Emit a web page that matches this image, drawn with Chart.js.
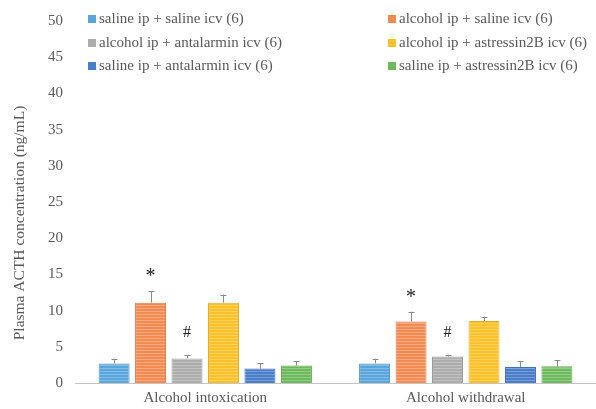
<!DOCTYPE html>
<html>
<head>
<meta charset="utf-8">
<script src="https://cdn.jsdelivr.net/npm/chart.js@4/dist/chart.umd.min.js"></script>
<style>
  html, body { margin: 0; padding: 0; background: #ffffff; }
  #wrap { width: 596px; height: 409px; position: relative; }
</style>
</head>
<body>
<div id="wrap"><canvas id="c" width="596" height="409"></canvas></div>
<script>
// Conditions on the x axis
const categories = ['Alcohol intoxication', 'Alcohol withdrawal'];

// Group names (n per group)
const seriesNames = [
  'saline ip + saline icv (6)',
  'alcohol ip + saline icv (6)',
  'alcohol ip + antalarmin icv (6)',
  'alcohol ip + astressin2B icv (6)',
  'saline ip + antalarmin icv (6)',
  'saline ip + astressin2B icv (6)'
];

// Mean plasma ACTH (ng/mL), one array per group: [intoxication, withdrawal]
const salineSaline       = [2.7, 2.7];
const alcoholSaline      = [11.1, 8.5];
const alcoholAntalarmin  = [3.4, 3.65];
const alcoholAstressin   = [11.1, 8.55];
const salineAntalarmin   = [2.0, 2.2];
const salineAstressin    = [2.4, 2.3];

// Upper SEM for each group
const semSalineSaline      = [0.65, 0.65];
const semAlcoholSaline     = [1.6, 1.35];
const semAlcoholAntalarmin = [0.45, 0.25];
const semAlcoholAstressin  = [1.1, 0.6];
const semSalineAntalarmin  = [0.7, 0.85];
const semSalineAstressin   = [0.6, 0.85];

// Significance marks per group: [intoxication, withdrawal]
const marksAlcoholSaline     = ['*', '*'];
const marksAlcoholAntalarmin = ['#', '#'];

// Y axis ticks
const yTicks = [0, 5, 10, 15, 20, 25, 30, 35, 40, 45, 50];
const yTitle = 'Plasma ACTH concentration (ng/mL)';

const colors = ['#5aa5dc', '#f38b55', '#adadad', '#fdc22a', '#4a7dca', '#6dba5c'];

function striped(hex) {
  const p = document.createElement('canvas');
  p.width = 4; p.height = 3;
  const g = p.getContext('2d');
  g.fillStyle = hex; g.fillRect(0, 0, 4, 3);
  g.fillStyle = 'rgba(255,255,255,0.25)'; g.fillRect(0, 2, 4, 1);
  return g.createPattern(p, 'repeat');
}
function darker(hex, f) {
  const n = parseInt(hex.slice(1), 16);
  const r = Math.round(((n >> 16) & 255) * f), gg = Math.round(((n >> 8) & 255) * f), b = Math.round((n & 255) * f);
  return 'rgb(' + r + ',' + gg + ',' + b + ')';
}

const values = [salineSaline, alcoholSaline, alcoholAntalarmin, alcoholAstressin, salineAntalarmin, salineAstressin];
const sems = [semSalineSaline, semAlcoholSaline, semAlcoholAntalarmin, semAlcoholAstressin, semSalineAntalarmin, semSalineAstressin];
const marks = [null, marksAlcoholSaline, marksAlcoholAntalarmin, null, null, null];

const datasets = values.map((v, i) => ({
  label: seriesNames[i],
  data: v,
  sem: sems[i],
  marks: marks[i],
  swatch: colors[i],
  backgroundColor: striped(colors[i]),
  borderColor: darker(colors[i], 0.9),
  borderWidth: 1,
  categoryPercentage: 0.84,
  barPercentage: 0.85
}));

const FONT = '"Liberation Serif", "Times New Roman", serif';
const TEXT = '#595959';

// Upward error bars with caps, plus significance marks
const errorBars = {
  id: 'errorBars',
  afterDatasetsDraw(chart) {
    const ctx = chart.ctx, y = chart.scales.y;
    chart.data.datasets.forEach((ds, di) => {
      const meta = chart.getDatasetMeta(di);
      meta.data.forEach((bar, j) => {
        const top = y.getPixelForValue(ds.data[j] + ds.sem[j]);
        const base = y.getPixelForValue(ds.data[j]);
        ctx.save();
        ctx.strokeStyle = '#8a8a8a';
        ctx.lineWidth = 1;
        ctx.beginPath();
        ctx.moveTo(Math.round(bar.x) + 0.5, base);
        ctx.lineTo(Math.round(bar.x) + 0.5, top);
        ctx.moveTo(Math.round(bar.x) - 2.5, Math.round(top) + 0.5);
        ctx.lineTo(Math.round(bar.x) + 3.5, Math.round(top) + 0.5);
        ctx.stroke();
        if (ds.marks && ds.marks[j]) {
          const m = ds.marks[j];
          ctx.fillStyle = '#222222';
          ctx.textAlign = 'center';
          ctx.textBaseline = 'middle';
          ctx.font = (m === '*' ? '20px ' : '16px ') + FONT;
          ctx.fillText(m, bar.x, top - (m === '*' ? 14 : 22));
        }
        ctx.restore();
      });
    });
  }
};

// Two-column legend inside the plot, row-major by group order; rotated y title
const gridLegend = {
  id: 'gridLegend',
  afterDraw(chart) {
    const ctx = chart.ctx;
    const colX = [88, 388];
    const rowY = [19, 43, 66];
    ctx.save();
    ctx.font = '15px ' + FONT;
    ctx.textBaseline = 'middle';
    ctx.textAlign = 'left';
    chart.data.datasets.forEach((ds, i) => {
      const x = colX[i % 2], yy = rowY[Math.floor(i / 2)];
      ctx.fillStyle = ds.swatch;
      ctx.fillRect(x, yy - 4, 8, 8);
      ctx.fillStyle = TEXT;
      ctx.fillText(ds.label, x + 11, yy);
    });
    ctx.translate(20, 223);
    ctx.rotate(-Math.PI / 2);
    ctx.textAlign = 'center';
    ctx.font = '15.5px ' + FONT;
    ctx.fillText(yTitle, 0, 0);
    ctx.restore();
  }
};

new Chart(document.getElementById('c'), {
  type: 'bar',
  data: { labels: categories, datasets },
  plugins: [errorBars, gridLegend],
  options: {
    responsive: false,
    animation: false,
    devicePixelRatio: 1,
    layout: { padding: { top: 12, right: 0, left: 0, bottom: 0 } },
    plugins: { legend: { display: false }, tooltip: { enabled: false } },
    scales: {
      x: {
        grid: { display: false, drawTicks: false },
        border: { display: true, color: '#c4c4c4', width: 1 },
        ticks: { color: TEXT, font: { family: FONT, size: 15 }, padding: 6 },
        afterFit(s) { s.height = 26; }
      },
      y: {
        min: 0, max: 50,
        afterBuildTicks(s) { s.ticks = yTicks.map(v => ({ value: v })); },
        grid: { display: false, drawTicks: false },
        border: { display: false },
        ticks: { color: TEXT, font: { family: FONT, size: 15 }, padding: 12 },
        afterFit(s) { s.width = 75; }
      }
    }
  }
});
</script>
</body>
</html>
